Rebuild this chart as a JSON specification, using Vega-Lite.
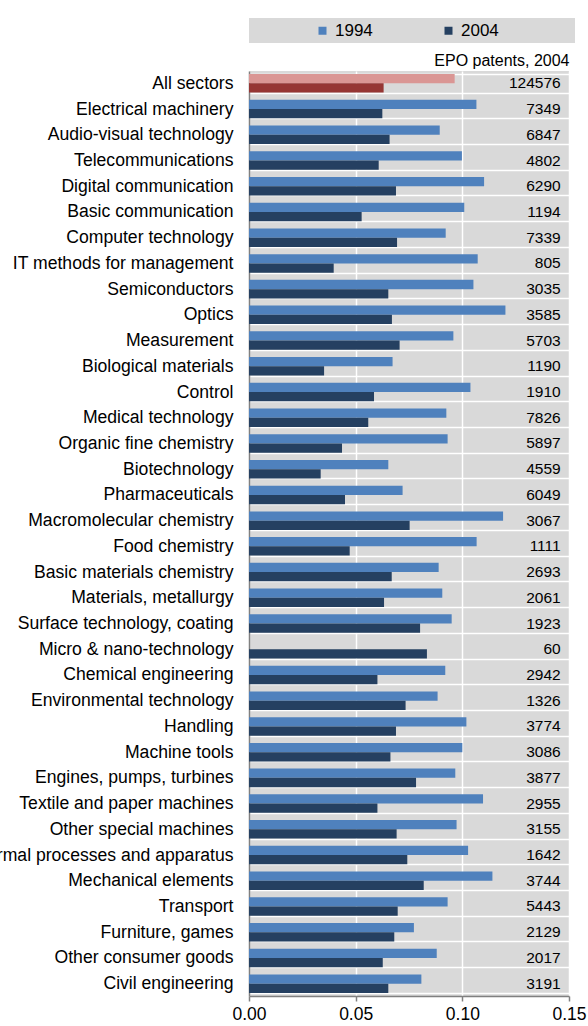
{
  "$schema": "https://vega.github.io/schema/vega-lite/v6.json",
  "width": 320,
  "height": 925,
  "autosize": {"type": "none"},
  "padding": {"left": 249, "top": 71, "right": 19, "bottom": 30},
  "background": "white",
  "config": {
    "font": "Liberation Sans",
    "view": {"fill": "#D9D9D9", "stroke": null},
    "axis": {"labelColor": "#000000", "titleColor": "#000000", "titleFontWeight": "normal"},
    "legend": {"labelColor": "#000000"}
  },
  "datasets": {
    "shares": [
      {"sector": "All sectors", "year": "1994", "series": "1994 all", "share": 0.0964},
      {"sector": "All sectors", "year": "2004", "series": "2004 all", "share": 0.0631},
      {"sector": "Electrical machinery", "year": "1994", "series": "1994", "share": 0.1066},
      {"sector": "Electrical machinery", "year": "2004", "series": "2004", "share": 0.0625},
      {"sector": "Audio-visual technology", "year": "1994", "series": "1994", "share": 0.0894},
      {"sector": "Audio-visual technology", "year": "2004", "series": "2004", "share": 0.0659},
      {"sector": "Telecommunications", "year": "1994", "series": "1994", "share": 0.0998},
      {"sector": "Telecommunications", "year": "2004", "series": "2004", "share": 0.0608},
      {"sector": "Digital communication", "year": "1994", "series": "1994", "share": 0.1102},
      {"sector": "Digital communication", "year": "2004", "series": "2004", "share": 0.0689},
      {"sector": "Basic communication", "year": "1994", "series": "1994", "share": 0.1009},
      {"sector": "Basic communication", "year": "2004", "series": "2004", "share": 0.0528},
      {"sector": "Computer technology", "year": "1994", "series": "1994", "share": 0.0922},
      {"sector": "Computer technology", "year": "2004", "series": "2004", "share": 0.0694},
      {"sector": "IT methods for management", "year": "1994", "series": "1994", "share": 0.1072},
      {"sector": "IT methods for management", "year": "2004", "series": "2004", "share": 0.0397},
      {"sector": "Semiconductors", "year": "1994", "series": "1994", "share": 0.1052},
      {"sector": "Semiconductors", "year": "2004", "series": "2004", "share": 0.0653},
      {"sector": "Optics", "year": "1994", "series": "1994", "share": 0.1202},
      {"sector": "Optics", "year": "2004", "series": "2004", "share": 0.0670},
      {"sector": "Measurement", "year": "1994", "series": "1994", "share": 0.0958},
      {"sector": "Measurement", "year": "2004", "series": "2004", "share": 0.0706},
      {"sector": "Biological materials", "year": "1994", "series": "1994", "share": 0.0673},
      {"sector": "Biological materials", "year": "2004", "series": "2004", "share": 0.0352},
      {"sector": "Control", "year": "1994", "series": "1994", "share": 0.1038},
      {"sector": "Control", "year": "2004", "series": "2004", "share": 0.0586},
      {"sector": "Medical technology", "year": "1994", "series": "1994", "share": 0.0925},
      {"sector": "Medical technology", "year": "2004", "series": "2004", "share": 0.0559},
      {"sector": "Organic fine chemistry", "year": "1994", "series": "1994", "share": 0.0931},
      {"sector": "Organic fine chemistry", "year": "2004", "series": "2004", "share": 0.0436},
      {"sector": "Biotechnology", "year": "1994", "series": "1994", "share": 0.0653},
      {"sector": "Biotechnology", "year": "2004", "series": "2004", "share": 0.0336},
      {"sector": "Pharmaceuticals", "year": "1994", "series": "1994", "share": 0.0720},
      {"sector": "Pharmaceuticals", "year": "2004", "series": "2004", "share": 0.0450},
      {"sector": "Macromolecular chemistry", "year": "1994", "series": "1994", "share": 0.1191},
      {"sector": "Macromolecular chemistry", "year": "2004", "series": "2004", "share": 0.0753},
      {"sector": "Food chemistry", "year": "1994", "series": "1994", "share": 0.1067},
      {"sector": "Food chemistry", "year": "2004", "series": "2004", "share": 0.0472},
      {"sector": "Basic materials chemistry ", "year": "1994", "series": "1994", "share": 0.0889},
      {"sector": "Basic materials chemistry ", "year": "2004", "series": "2004", "share": 0.0669},
      {"sector": "Materials, metallurgy", "year": "1994", "series": "1994", "share": 0.0906},
      {"sector": "Materials, metallurgy", "year": "2004", "series": "2004", "share": 0.0633},
      {"sector": "Surface technology, coating", "year": "1994", "series": "1994", "share": 0.0950},
      {"sector": "Surface technology, coating", "year": "2004", "series": "2004", "share": 0.0802},
      {"sector": "Micro & nano-technology", "year": "2004", "series": "2004", "share": 0.0834},
      {"sector": "Chemical engineering", "year": "1994", "series": "1994", "share": 0.0920},
      {"sector": "Chemical engineering", "year": "2004", "series": "2004", "share": 0.0602},
      {"sector": "Environmental technology", "year": "1994", "series": "1994", "share": 0.0884},
      {"sector": "Environmental technology", "year": "2004", "series": "2004", "share": 0.0734},
      {"sector": "Handling", "year": "1994", "series": "1994", "share": 0.1019},
      {"sector": "Handling", "year": "2004", "series": "2004", "share": 0.0689},
      {"sector": "Machine tools", "year": "1994", "series": "1994", "share": 0.1000},
      {"sector": "Machine tools", "year": "2004", "series": "2004", "share": 0.0663},
      {"sector": "Engines, pumps, turbines", "year": "1994", "series": "1994", "share": 0.0967},
      {"sector": "Engines, pumps, turbines", "year": "2004", "series": "2004", "share": 0.0783},
      {"sector": "Textile and paper machines", "year": "1994", "series": "1994", "share": 0.1097},
      {"sector": "Textile and paper machines", "year": "2004", "series": "2004", "share": 0.0602},
      {"sector": "Other special machines", "year": "1994", "series": "1994", "share": 0.0973},
      {"sector": "Other special machines", "year": "2004", "series": "2004", "share": 0.0692},
      {"sector": "Thermal processes and apparatus", "year": "1994", "series": "1994", "share": 0.1027},
      {"sector": "Thermal processes and apparatus", "year": "2004", "series": "2004", "share": 0.0742},
      {"sector": "Mechanical elements", "year": "1994", "series": "1994", "share": 0.1141},
      {"sector": "Mechanical elements", "year": "2004", "series": "2004", "share": 0.0819},
      {"sector": "Transport", "year": "1994", "series": "1994", "share": 0.0931},
      {"sector": "Transport", "year": "2004", "series": "2004", "share": 0.0697},
      {"sector": "Furniture, games", "year": "1994", "series": "1994", "share": 0.0773},
      {"sector": "Furniture, games", "year": "2004", "series": "2004", "share": 0.0681},
      {"sector": "Other consumer goods", "year": "1994", "series": "1994", "share": 0.0880},
      {"sector": "Other consumer goods", "year": "2004", "series": "2004", "share": 0.0627},
      {"sector": "Civil engineering", "year": "1994", "series": "1994", "share": 0.0808},
      {"sector": "Civil engineering", "year": "2004", "series": "2004", "share": 0.0653}
    ],
    "patents": [
      {"sector": "All sectors", "patents": "124576"},
      {"sector": "Electrical machinery", "patents": "7349"},
      {"sector": "Audio-visual technology", "patents": "6847"},
      {"sector": "Telecommunications", "patents": "4802"},
      {"sector": "Digital communication", "patents": "6290"},
      {"sector": "Basic communication", "patents": "1194"},
      {"sector": "Computer technology", "patents": "7339"},
      {"sector": "IT methods for management", "patents": "805"},
      {"sector": "Semiconductors", "patents": "3035"},
      {"sector": "Optics", "patents": "3585"},
      {"sector": "Measurement", "patents": "5703"},
      {"sector": "Biological materials", "patents": "1190"},
      {"sector": "Control", "patents": "1910"},
      {"sector": "Medical technology", "patents": "7826"},
      {"sector": "Organic fine chemistry", "patents": "5897"},
      {"sector": "Biotechnology", "patents": "4559"},
      {"sector": "Pharmaceuticals", "patents": "6049"},
      {"sector": "Macromolecular chemistry", "patents": "3067"},
      {"sector": "Food chemistry", "patents": "1111"},
      {"sector": "Basic materials chemistry ", "patents": "2693"},
      {"sector": "Materials, metallurgy", "patents": "2061"},
      {"sector": "Surface technology, coating", "patents": "1923"},
      {"sector": "Micro & nano-technology", "patents": "60"},
      {"sector": "Chemical engineering", "patents": "2942"},
      {"sector": "Environmental technology", "patents": "1326"},
      {"sector": "Handling", "patents": "3774"},
      {"sector": "Machine tools", "patents": "3086"},
      {"sector": "Engines, pumps, turbines", "patents": "3877"},
      {"sector": "Textile and paper machines", "patents": "2955"},
      {"sector": "Other special machines", "patents": "3155"},
      {"sector": "Thermal processes and apparatus", "patents": "1642"},
      {"sector": "Mechanical elements", "patents": "3744"},
      {"sector": "Transport", "patents": "5443"},
      {"sector": "Furniture, games", "patents": "2129"},
      {"sector": "Other consumer goods", "patents": "2017"},
      {"sector": "Civil engineering", "patents": "3191"}
    ]
  },
  "resolve": {"axis": {"x": "independent"}},
  "layer": [
    {
      "data": {"name": "shares"},
      "mark": {"type": "bar"},
      "encoding": {
        "y": {
          "field": "sector",
          "type": "nominal",
          "scale": {
            "domain": ["All sectors", "Electrical machinery", "Audio-visual technology", "Telecommunications", "Digital communication", "Basic communication", "Computer technology", "IT methods for management", "Semiconductors", "Optics", "Measurement", "Biological materials", "Control", "Medical technology", "Organic fine chemistry", "Biotechnology", "Pharmaceuticals", "Macromolecular chemistry", "Food chemistry", "Basic materials chemistry ", "Materials, metallurgy", "Surface technology, coating", "Micro & nano-technology", "Chemical engineering", "Environmental technology", "Handling", "Machine tools", "Engines, pumps, turbines", "Textile and paper machines", "Other special machines", "Thermal processes and apparatus", "Mechanical elements", "Transport", "Furniture, games", "Other consumer goods", "Civil engineering"],
            "paddingInner": 0.28,
            "paddingOuter": 0.12
          },
          "axis": {
            "title": null,
            "labelFontSize": 17.6,
            "labelPadding": 16,
            "labelLimit": 500,
            "ticks": false,
            "domain": true,
            "domainColor": "#808080",
            "domainWidth": 1.5,
            "grid": true,
            "gridColor": "#FFFFFF",
            "gridWidth": 1.5,
            "tickBand": "extent"
          }
        },
        "yOffset": {"field": "year", "type": "nominal", "scale": {"domain": ["1994", "2004"]}},
        "x": {
          "field": "share",
          "type": "quantitative",
          "scale": {"domain": [0, 0.15], "nice": false},
          "axis": {
            "title": null,
            "orient": "bottom",
            "values": [0, 0.05, 0.1, 0.15],
            "format": ".2f",
            "labelFontSize": 17.5,
            "labelPadding": 4,
            "tickColor": "#808080",
            "tickSize": 5,
            "tickWidth": 1.5,
            "domainColor": "#808080",
            "domainWidth": 1.5,
            "grid": true,
            "gridColor": "#FFFFFF",
            "gridWidth": 1.5,
            "labelFlush": false
          }
        },
        "color": {
          "field": "series",
          "type": "nominal",
          "scale": {
            "domain": ["1994", "2004", "1994 all", "2004 all"],
            "range": ["#4F81BD", "#254061", "#DA9694", "#963634"]
          },
          "legend": {
            "values": ["1994", "2004"],
            "orient": "top",
            "direction": "horizontal",
            "title": " ",
            "titleOrient": "left",
            "titleFontSize": 1,
            "titlePadding": 61,
            "symbolType": "square",
            "symbolSize": 64,
            "symbolStrokeWidth": 0,
            "labelFontSize": 17,
            "labelOffset": 4,
            "columnPadding": 67,
            "fillColor": "#D9D9D9",
            "padding": 4,
            "offset": 9,
            "labelExpr": "datum.value == '2004' ? '2004\u2800\u2800\u2800\u2800\u2800\u2800' : datum.label"
          }
        }
      }
    },
    {
      "data": {"name": "patents"},
      "mark": {"type": "text", "align": "right", "baseline": "middle", "fontSize": 15.5, "color": "#000000"},
      "encoding": {
        "y": {"field": "sector", "type": "nominal"},
        "x": {
          "datum": 0.1461,
          "type": "quantitative",
          "axis": {
            "orient": "top",
            "title": "EPO patents, 2004",
            "titleAnchor": "end",
            "titleFontSize": 16,
            "titlePadding": 3,
            "labels": false,
            "ticks": false,
            "domain": false,
            "grid": false
          }
        },
        "text": {"field": "patents"}
      }
    }
  ]
}
